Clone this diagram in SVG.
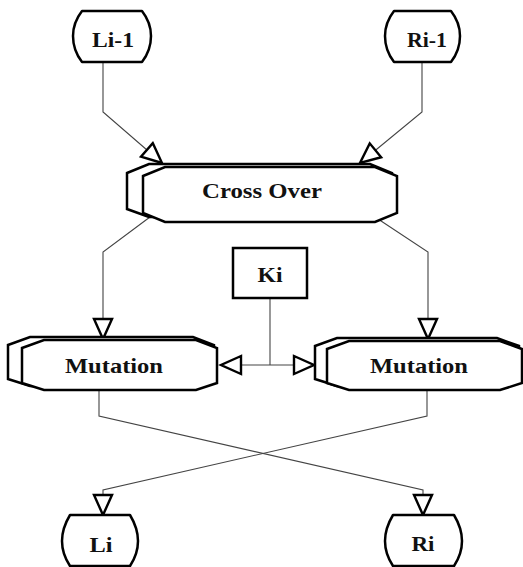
<svg xmlns="http://www.w3.org/2000/svg" width="523" height="567" viewBox="0 0 523 567">
<style>
.n{fill:#fff;stroke:#000;stroke-width:2.5;stroke-linejoin:round}
.b{fill:#fff;stroke:#000;stroke-width:2.5;stroke-linejoin:miter}
.t{font-family:"Liberation Serif","Times New Roman",serif;font-weight:bold;font-size:21px;fill:#111;text-anchor:middle}
.c{fill:none;stroke:#444;stroke-width:1.1}
</style>
<defs>
<marker id="arr" markerUnits="userSpaceOnUse" markerWidth="26" markerHeight="24" viewBox="-3 -3 26 24" refX="20" refY="9" orient="auto">
<path d="M0,0 L20,9 L0,18 Z" fill="#fff" stroke="#000" stroke-width="2.4" stroke-linejoin="miter"/>
</marker>
</defs>
<g id="connectors">
<path class="c" d="M103,62 V112 L162,163" marker-end="url(#arr)"/>
<path class="c" d="M422,62 V112 L360,163" marker-end="url(#arr)"/>
<path class="c" d="M150,217 L103,252 V339" marker-end="url(#arr)"/>
<path class="c" d="M375,217 L428,252 V339" marker-end="url(#arr)"/>
<path class="c" d="M270,298 V365"/>
<path class="c" d="M270,365 H221" marker-end="url(#arr)"/>
<path class="c" d="M270,365 H314" marker-end="url(#arr)"/>
<path class="c" d="M99,390 V416 L423,490 V515" marker-end="url(#arr)"/>
<path class="c" d="M427,390 V416 L103,490 V515" marker-end="url(#arr)"/>
</g>
<g id="L_prev">
<path class="n" d="M82,11 H142 C149,20 151,28 151,36 C151,44 149,53 142,62 H82 C75,53 73,44 73,36 C73,28 75,20 82,11 Z"/>
<text class="t" x="113" y="47" textLength="42" lengthAdjust="spacingAndGlyphs">Li-1</text>
</g>
<g id="R_prev">
<path class="n" d="M394,11 H451 C458,20 460,28 460,36 C460,44 458,53 451,62 H394 C387,53 385,44 385,36 C385,28 387,20 394,11 Z"/>
<text class="t" x="427" y="47" textLength="40" lengthAdjust="spacingAndGlyphs">Ri-1</text>
</g>
<g id="crossover">
<polygon class="b" points="127,173 149,164 370,164 392,173 392,209 370,217 149,217 127,209"/>
<polygon class="b" points="143,176 165,167 375,167 397,176 397,213 375,222 165,222 143,213"/>
<text class="t" x="262" y="198" textLength="120" lengthAdjust="spacingAndGlyphs">Cross Over</text>
</g>
<g id="Ki">
<rect class="b" x="233" y="248" width="74" height="50"/>
<text class="t" x="270" y="282" textLength="25" lengthAdjust="spacingAndGlyphs">Ki</text>
</g>
<g id="mutation_left">
<polygon class="b" points="8,345 30,337 193,337 214,345 214,379 193,386 30,386 8,379"/>
<polygon class="b" points="22,348 44,340 196,340 217,348 217,383 196,390 44,390 22,383"/>
<text class="t" x="114" y="373" textLength="98" lengthAdjust="spacingAndGlyphs">Mutation</text>
</g>
<g id="mutation_right">
<polygon class="b" points="315,346 337,338 497,338 519,346 519,379 497,386 337,386 315,379"/>
<polygon class="b" points="327,349 349,341 500,341 522,349 522,383 500,390 349,390 327,383"/>
<text class="t" x="419" y="373" textLength="98" lengthAdjust="spacingAndGlyphs">Mutation</text>
</g>
<g id="L_i">
<path class="n" d="M70,515 H130 C136,525 138,533 138,541 C138,549 136,557 130,566 H70 C64,557 62,549 62,541 C62,533 64,525 70,515 Z"/>
<text class="t" x="101" y="552" textLength="23" lengthAdjust="spacingAndGlyphs">Li</text>
</g>
<g id="R_i">
<path class="n" d="M393,515 H454 C460,525 462,533 462,541 C462,549 460,557 454,566 H393 C387,557 385,549 385,541 C385,533 387,525 393,515 Z"/>
<text class="t" x="423" y="551" textLength="23" lengthAdjust="spacingAndGlyphs">Ri</text>
</g>
</svg>
